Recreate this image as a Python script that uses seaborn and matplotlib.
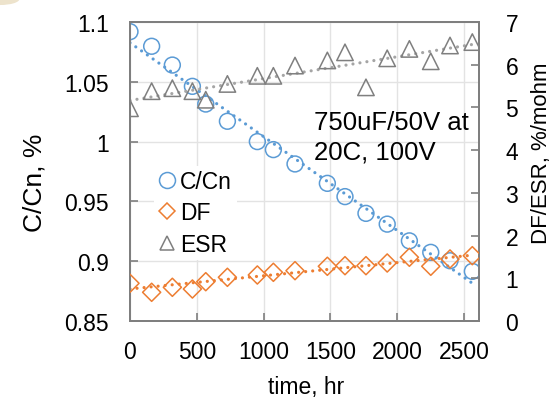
import matplotlib
matplotlib.use("Agg")
import matplotlib.pyplot as plt
import seaborn as sns
import numpy as np
import pandas as pd
from matplotlib.patches import Ellipse
from matplotlib.lines import Line2D

# ---- data ----
time_hr = [0, 162, 317, 467, 567, 729, 953, 1073, 1235, 1477, 1609, 1766, 1925, 2091, 2251, 2395, 2562]
c_cn = [1.0919, 1.0797, 1.064, 1.0462, 1.0314, 1.017, 1.000, 0.9933, 0.9813, 0.9651,
        0.954, 0.940, 0.931, 0.917, 0.9074, 0.9004, 0.8915]
df = [0.883, 0.672, 0.789, 0.749, 0.920, 1.023, 1.077, 1.140, 1.178, 1.281,
      1.295, 1.295, 1.358, 1.492, 1.281, 1.452, 1.529]
esr = [4.98, 5.38, 5.45, 5.38, 5.18, 5.55, 5.74, 5.74, 5.98, 6.10,
       6.29, 5.47, 6.15, 6.37, 6.08, 6.45, 6.53]
x_ticks = [0, 500, 1000, 1500, 2000, 2500]
left_ticks = [0.85, 0.9, 0.95, 1.0, 1.05, 1.1]
left_tick_labels = ["0.85", "0.9", "0.95", "1", "1.05", "1.1"]
right_ticks = [0, 1, 2, 3, 4, 5, 6, 7]
series_names = ["C/Cn", "DF", "ESR"]
note_text = "750uF/50V at\n20C, 100V"

data = pd.DataFrame({"time": time_hr, "ccn": c_cn, "df": df, "esr": esr})

BLUE = "#5B9BD5"
ORANGE = "#ED7D31"
GRAY = "#7F7F7F"
GRAY_LINE = "#A5A5A5"

sns.set_theme(style="white")
plt.rcParams["font.family"] = ["Liberation Sans", "DejaVu Sans"]
FS_TICK = 16.5

fig = plt.figure(figsize=(5.56, 4.02), dpi=100)
ax = fig.add_axes([130 / 556, 1 - 322 / 402, 349 / 556, 299 / 402])
ax2 = ax.twinx()

dot = (0, (0.01, 2.2))

# trendlines
tl = dict(lw=2.3, ls=dot, dash_capstyle="round", zorder=2)
sns.regplot(data=data, x="time", y="ccn", ax=ax, scatter=False, ci=None, truncate=True,
            line_kws=dict(color=BLUE, **tl))
sns.regplot(data=data, x="time", y="df", ax=ax2, scatter=False, ci=None, truncate=True,
            line_kws=dict(color=ORANGE, **tl))
sns.regplot(data=data, x="time", y="esr", ax=ax2, scatter=False, ci=None, truncate=True,
            line_kws=dict(color=GRAY_LINE, **tl))

# markers
sns.scatterplot(data=data, x="time", y="ccn", ax=ax, marker="o", s=130,
                facecolors="none", edgecolor=BLUE, linewidth=1.1, zorder=3, legend=False)
sns.scatterplot(data=data, x="time", y="df", ax=ax2, marker="D", s=85,
                facecolors="none", edgecolor=ORANGE, linewidth=1.1, zorder=3, legend=False)
sns.scatterplot(data=data, x="time", y="esr", ax=ax2, marker="^", s=140,
                facecolors="none", edgecolor=GRAY, linewidth=1.1, zorder=3, legend=False)

# axes limits / ticks
ax.set_xlim(0, 2612)
ax.set_ylim(0.85, 1.1)
ax2.set_ylim(0, 7)
ax.set_xticks(x_ticks)
ax.set_xticklabels([str(v) for v in x_ticks])
ax.set_yticks(left_ticks)
ax.set_yticklabels(left_tick_labels)
ax2.set_yticks(right_ticks)
ax2.set_yticklabels([str(v) for v in right_ticks])

ax.grid(True, color="#E3E3E3", lw=1.0)
ax.set_axisbelow(True)
ax2.grid(False)

for a in (ax, ax2):
    for s in a.spines.values():
        s.set_color(GRAY)
        s.set_linewidth(1.4)
        s.set_visible(True)

ax.tick_params(axis="both", direction="in", length=6, width=1.2, color=GRAY,
               labelsize=FS_TICK, labelcolor="black", pad=15, bottom=True, left=True)
ax.tick_params(axis="x", pad=14)
ax2.tick_params(axis="y", direction="in", length=6, width=1.2, color=GRAY,
                labelsize=FS_TICK, labelcolor="black", pad=19, right=True)

ax.set_xlabel("time, hr", fontsize=16.5, color="black")
ax.set_ylabel("C/Cn, %", fontsize=19, color="black")
ax2.set_ylabel("DF/ESR, %/mohm", fontsize=16, color="black")
ax.xaxis.set_label_coords(0.504, -0.18)
ax.yaxis.set_label_coords(-0.238, 0.465)
ax2.yaxis.set_label_coords(1.148, 0.565)

# annotation
ax.text(0.527, 0.706, note_text, transform=ax.transAxes, fontsize=18.5, color="black",
        ha="left", va="top", linespacing=1.32, zorder=5)

# legend
handles = [
    Line2D([], [], ls="none", marker="o", ms=11.5, mfc="none", mec=BLUE, mew=1.1),
    Line2D([], [], ls="none", marker="D", ms=8.5, mfc="none", mec=ORANGE, mew=1.1),
    Line2D([], [], ls="none", marker="^", ms=10, mfc="none", mec=GRAY, mew=1.1),
]
leg = ax2.legend(handles, series_names, loc="upper left", bbox_to_anchor=(0.068, 0.52),
                 frameon=True, fontsize=16.5, handlelength=0.8, handletextpad=0.15,
                 labelspacing=0.36, borderpad=0.2, borderaxespad=0)
leg.get_frame().set_facecolor("white")
leg.get_frame().set_edgecolor("none")
leg.get_frame().set_alpha(1)
for t in leg.get_texts():
    t.set_color("black")

# small beige artifact in the top-left corner of the reference
fig.patches.append(Ellipse((0.0, 1.0), 0.07, 0.03, transform=fig.transFigure,
                           facecolor="#EDE3CC", edgecolor="none"))

fig.savefig("out.png", dpi=100)
